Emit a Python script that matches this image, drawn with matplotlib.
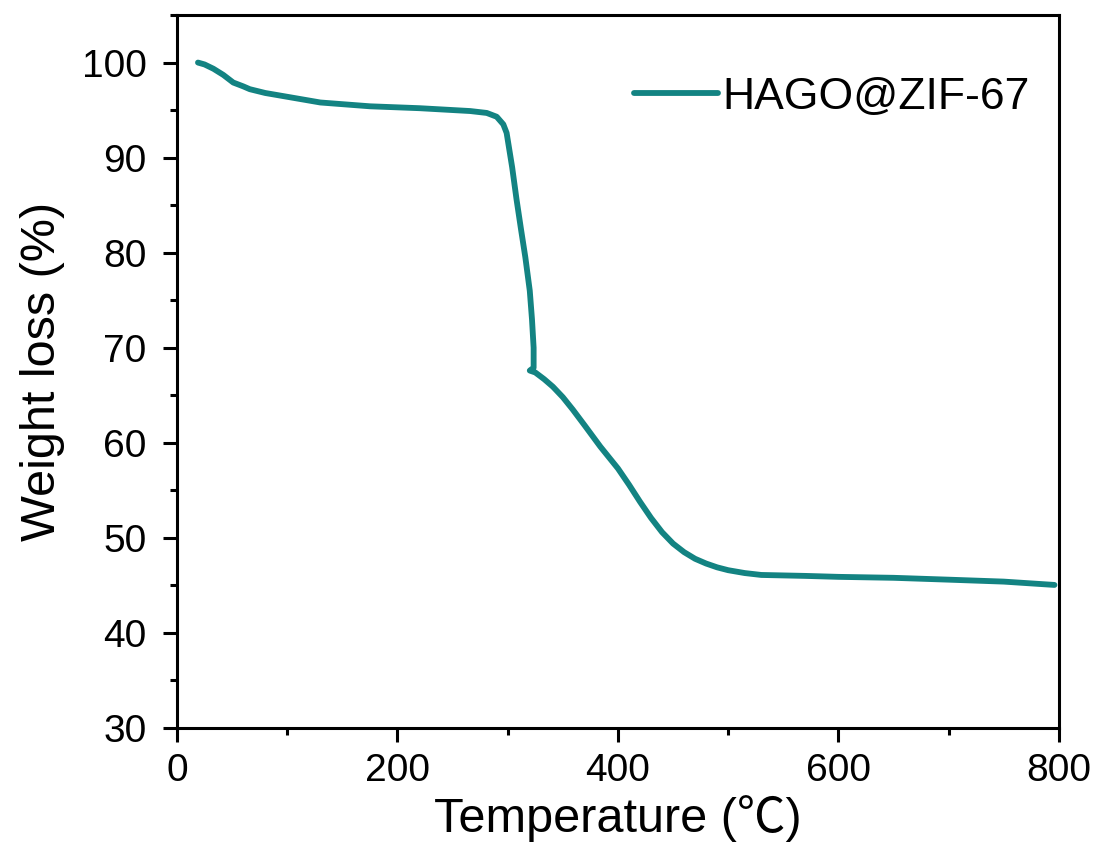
import matplotlib.pyplot as plt
from matplotlib.ticker import MultipleLocator

# TGA curve of HAGO@ZIF-67
temperature = [19, 25, 33, 42, 51, 60, 66, 80, 100, 130, 175, 220, 266, 281,
               290, 296, 299, 304, 308, 312, 316, 320, 322, 323.5, 323.5,
               320, 325, 333, 341, 350, 359, 370, 384, 400, 410, 420, 430,
               440, 450, 460, 470, 480, 490, 500, 515, 530, 570, 600, 650,
               701, 750, 796]
weight = [100.0, 99.8, 99.35, 98.7, 97.9, 97.5, 97.2, 96.8, 96.4, 95.8, 95.4,
          95.2, 94.9, 94.7, 94.3, 93.5, 92.6, 89.0, 85.6, 82.5, 79.5, 76.0,
          73.0, 70.0, 67.9, 67.6, 67.4, 66.7, 65.9, 64.8, 63.5, 61.8, 59.6,
          57.3, 55.6, 53.8, 52.1, 50.6, 49.4, 48.5, 47.8, 47.3, 46.9, 46.6,
          46.3, 46.1, 46.0, 45.9, 45.8, 45.6, 45.4, 45.05]
series_name = 'HAGO@ZIF-67'

plt.rcParams['font.family'] = ['Liberation Sans', 'Noto Sans CJK SC', 'DejaVu Sans']

fig = plt.figure(figsize=(11.03, 8.64), dpi=100)
ax = fig.add_axes([0.1605, 0.1574, 0.7995, 0.8252])

ax.plot(temperature, weight, color='#138382', linewidth=4.2,
        solid_capstyle='round', solid_joinstyle='round', label=series_name)

ax.set_xlim(0, 800)
ax.set_ylim(30, 105)
ax.xaxis.set_major_locator(MultipleLocator(200))
ax.xaxis.set_minor_locator(MultipleLocator(100))
ax.yaxis.set_major_locator(MultipleLocator(10))
ax.yaxis.set_minor_locator(MultipleLocator(5))

for s in ax.spines.values():
    s.set_linewidth(2.2)
ax.tick_params(which='both', direction='out', width=2.2, top=False, right=False)
ax.tick_params(which='major', length=10, labelsize=28)
ax.tick_params(axis='y', which='major', pad=12)
ax.tick_params(axis='x', which='major', pad=8)
ax.tick_params(which='minor', length=5)

ax.set_xlabel('Temperature (℃)', fontsize=35, labelpad=4)
ax.set_ylabel('Weight loss (%)', fontsize=35, labelpad=12)

ax.legend(loc='center right', bbox_to_anchor=(0.967, 0.885), frameon=False,
          fontsize=32, handlelength=1.9, handletextpad=0.1,
          borderaxespad=0, borderpad=0)

fig.savefig('out.png', dpi=100)
